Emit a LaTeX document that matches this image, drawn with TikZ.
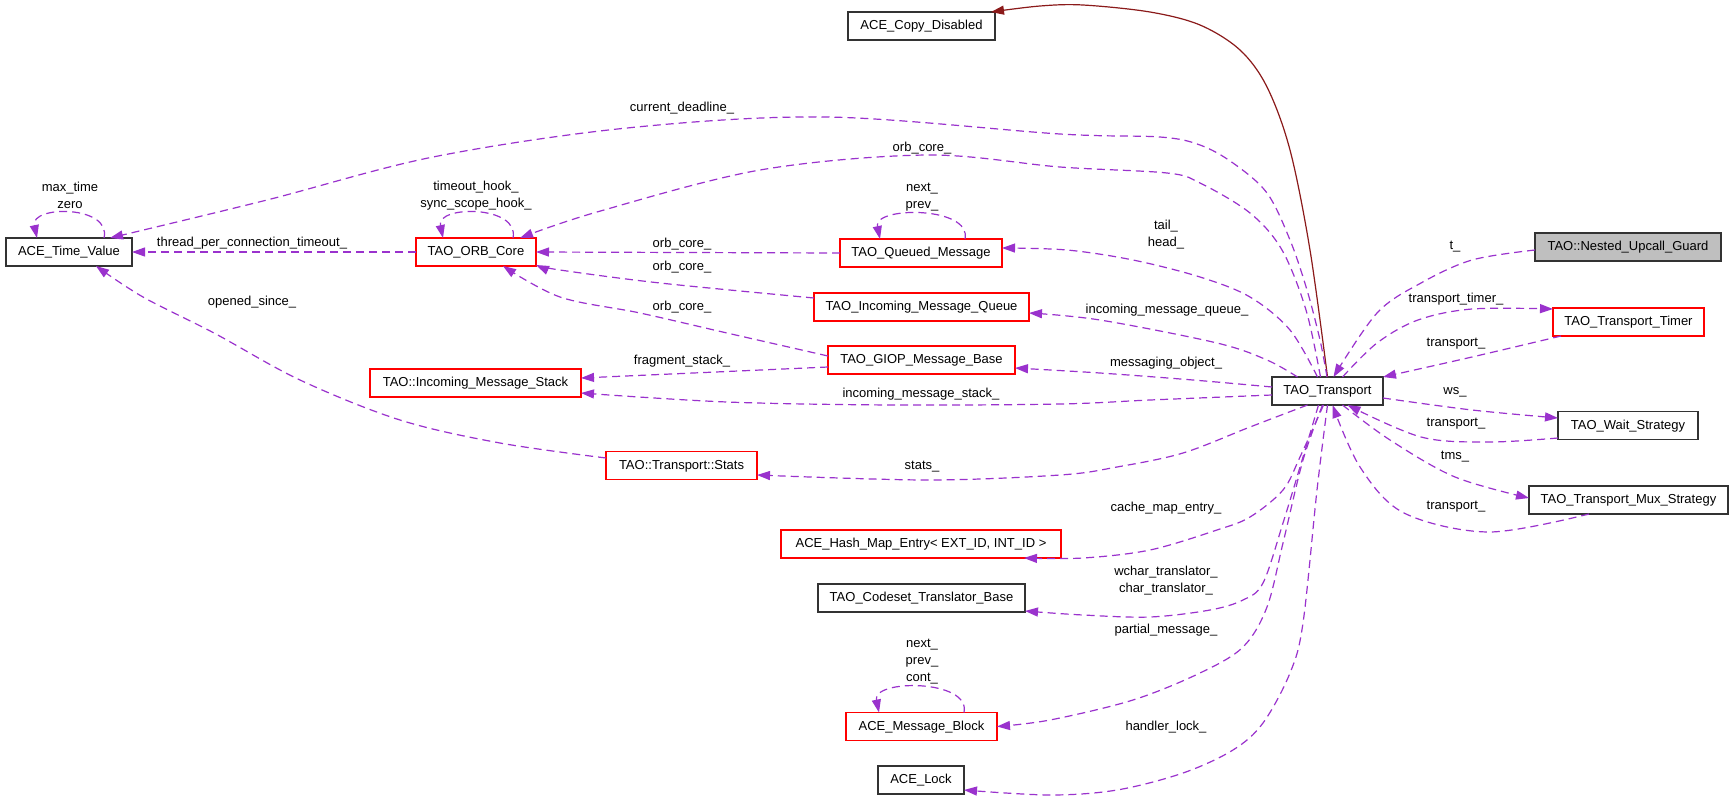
\documentclass[tikz,border=0pt]{standalone}
\usepackage{fontspec}
\setmainfont{Liberation Sans}
\usetikzlibrary{arrows.meta}
\definecolor{edgec}{HTML}{9A32CD}
\definecolor{inhc}{HTML}{8B1A1A}
\definecolor{nodered}{HTML}{FF0000}
\definecolor{nodeblk}{HTML}{333333}
\definecolor{focusfill}{HTML}{BFBFBF}
\begin{document}
\begin{tikzpicture}[x=1pt,y=-1pt,
  every node/.style={inner sep=0pt, outer sep=0pt},
  nbox/.style={draw=nodeblk, line width=1.3pt, minimum height=28pt, font=\fontsize{13}{15}\selectfont, text height=9.5pt, text depth=2.5pt},
  rbox/.style={nbox, draw=nodered},
  gbox/.style={nbox, fill=focusfill},
  lbl/.style={font=\fontsize{13}{17}\selectfont, text height=9.5pt, text depth=2.5pt},
  lblm/.style={font=\fontsize{13}{17}\selectfont, align=center},
  uses/.style={draw=edgec, line width=1.2pt, dash pattern=on 8pt off 5pt, -{Triangle[length=13pt,width=9pt]}},
  inherit/.style={draw=inhc, line width=1.2pt, -{Triangle[length=13pt,width=9pt]}},
]
\path[fill=white] (0,0) rectangle (1733,801);
\useasboundingbox (0,0) rectangle (1733,801);

% nodes
\node[nbox, minimum width=147pt] (CD) at (921.5,26) {ACE\_Copy\_Disabled};
\node[nbox, minimum width=126pt] (ATV) at (69,252) {ACE\_Time\_Value};
\node[rbox, minimum width=120pt] (ORB) at (476,252) {TAO\_ORB\_Core};
\node[rbox, minimum width=162pt] (QM) at (921,253) {TAO\_Queued\_Message};
\node[rbox, minimum width=215pt] (IMQ) at (921.5,307) {TAO\_Incoming\_Message\_Queue};
\node[rbox, minimum width=187pt] (GIOP) at (921.5,360) {TAO\_GIOP\_Message\_Base};
\node[rbox, minimum width=211pt] (IMS) at (475.5,383) {TAO::Incoming\_Message\_Stack};
\node[rbox, minimum width=151pt] (STATS) at (681.5,465.5) {TAO::Transport::Stats};
\node[rbox, minimum width=280pt] (HME) at (921,544) {ACE\_Hash\_Map\_Entry< EXT\_ID, INT\_ID >};
\node[nbox, minimum width=207pt] (CTB) at (921.5,598) {TAO\_Codeset\_Translator\_Base};
\node[rbox, minimum width=151pt] (MB) at (921.5,726.5) {ACE\_Message\_Block};
\node[nbox, minimum width=86pt] (LOCK) at (921,780) {ACE\_Lock};
\node[nbox, minimum width=111pt] (TR) at (1327.5,391) {TAO\_Transport};
\node[gbox, minimum width=186pt] (NUG) at (1628,247) {TAO::Nested\_Upcall\_Guard};
\node[rbox, minimum width=151pt] (TT) at (1628.5,322) {TAO\_Transport\_Timer};
\node[nbox, minimum width=140pt] (WS) at (1628,425.5) {TAO\_Wait\_Strategy};
\node[nbox, minimum width=199pt] (MUX) at (1628.5,500) {TAO\_Transport\_Mux\_Strategy};

% inheritance
\draw[inherit] plot[smooth, tension=0.55] coordinates {(TR.north) (1310,250) (1290,150) (1267,87) (1240,50) (1200,25) (1150,12) (1083,5) (1040,6) ([xshift=-4pt]CD.north east)};

% usage edges from TAO_Transport
\draw[uses] plot[smooth, tension=0.55] coordinates {([xshift=-0.5pt]TR.north) (1320,340) (1307,290) (1290,240) (1267,193) (1233,163) (1200,145) (1160,137) (1060,134) (827,117) (627,128) (433,157) (267,200) ([xshift=-22pt]ATV.north east)};
\draw[uses] plot[smooth, tension=0.55] coordinates {([xshift=-7pt]TR.north) (1306,310) (1282,250) (1250,213) (1200,183) (1167,173) (1060,167) (927,155) (760,170) (597,212) ([xshift=-16pt]ORB.north east)};
\draw[uses] plot[smooth, tension=0.55] coordinates {([xshift=-10pt]TR.north) (1290,330) (1250,297) (1200,277) (1133,260) (1067,250) ([yshift=5pt]QM.east)};
\draw[uses] plot[smooth, tension=0.55] coordinates {([xshift=-30pt]TR.north) (1267,360) (1217,343) (1100,320) ([yshift=-6pt]IMQ.east)};
\draw[uses] plot[smooth, tension=0.55] coordinates {([yshift=4pt]TR.west) (1193,380) (1100,373) ([yshift=-8pt]GIOP.east)};
\draw[uses] plot[smooth, tension=0.55] coordinates {([yshift=-4pt]TR.west) (1150,400) (1060,404) (893,405) (727,402) ([yshift=-10pt]IMS.east)};
\draw[uses] plot[smooth, tension=0.55] coordinates {([xshift=-20pt]TR.south) (1250,427) (1183,453) (1117,467) (1060,475) (927,480) ([yshift=-9.5pt]STATS.east)};
\draw[uses] plot[smooth, tension=0.55] coordinates {([xshift=-4pt]TR.south) (1300,457) (1283,490) (1250,517) (1217,530) (1150,550) (1083,558) ([xshift=-37pt]HME.south east)};
\draw[uses] plot[smooth, tension=0.55] coordinates {([xshift=-9pt]TR.south) (1303,457) (1283,523) (1263,583) (1243,600) (1210,610) (1150,617) (1083,615) ([yshift=-13pt]CTB.east)};
\draw[uses] plot[smooth, tension=0.55] coordinates {([xshift=-5pt]TR.south) (1303,460) (1283,543) (1267,607) (1243,647) (1200,673) (1133,700) (1050,720) (MB.east)};
\draw[uses] plot[smooth, tension=0.55] coordinates {(TR.south) (1317,490) (1303,623) (1290,673) (1263,723) (1233,750) (1183,773) (1117,790) (1050,795) ([yshift=-10pt]LOCK.east)};
\draw[uses] plot[smooth, tension=0.55] coordinates {([xshift=15pt]TR.north) (1377,343) (1418,320) (1472,309) ([yshift=13pt]TT.west)};
\draw[uses] plot[smooth, tension=0.55] coordinates {([yshift=-7pt]TR.east) (1472,410) ([yshift=7.5pt]WS.west)};
\draw[uses] plot[smooth, tension=0.55] coordinates {([xshift=15pt]TR.south) (1390,440) (1455,477) ([yshift=2pt]MUX.west)};

% usage edges into TAO_Transport
\draw[uses] plot[smooth, tension=0.55] coordinates {([yshift=-3pt]NUG.west) (1472,260) (1421,283) (1377,313) ([xshift=6pt]TR.north)};
\draw[uses] plot[smooth, tension=0.55] coordinates {([xshift=8pt]TT.south west) (1472,357) (TR.north east)};
\draw[uses] plot[smooth, tension=0.55] coordinates {([yshift=-12.5pt]WS.west) (1489,442) (1421,437) ([xshift=20pt]TR.south)};
\draw[uses] plot[smooth, tension=0.55] coordinates {([xshift=60pt]MUX.south west) (1489,532) (1404,513) (1360,467) ([xshift=5pt]TR.south)};

% other usage edges
\draw[uses] (ORB.west) -- (ATV.east);
\draw[uses] (QM.west) -- (ORB.east);
\draw[uses] plot[smooth, tension=0.55] coordinates {([yshift=9pt]IMQ.west) (660,283) (560,270) ([yshift=-13pt]ORB.east)};
\draw[uses] plot[smooth, tension=0.55] coordinates {([yshift=4pt]GIOP.west) (727,333) (640,313) (560,297) ([xshift=27pt]ORB.south)};
\draw[uses] ([yshift=-7pt]GIOP.west) -- ([yshift=5pt]IMS.east);
\draw[uses] plot[smooth, tension=0.55] coordinates {([yshift=7.5pt]STATS.west) (500,443) (400,420) (300,380) (214,333) (143,297) ([xshift=27pt]ATV.south)};

% self loops
\draw[uses] ([xshift=35pt]ATV.north) .. controls (112,205) and (30,205) .. ([xshift=-32pt]ATV.north);
\draw[uses] ([xshift=37pt]ORB.north) .. controls (520,205) and (436,205) .. ([xshift=-33pt]ORB.north);
\draw[uses] ([xshift=44pt]QM.north) .. controls (972,206) and (873,206) .. ([xshift=-41pt]QM.north);
\draw[uses] ([xshift=42.5pt]MB.north) .. controls (971,679) and (872,679) .. ([xshift=-42.5pt]MB.north);

% labels
\node[lbl] (Lcd) at (682,108) {current\_deadline\_};
\node[lbl] (Lorb1) at (922,148) {orb\_core\_};
\node[lblm] (Lmax) at (70,195.5) {max\_time\\zero};
\node[lblm] (Lhook) at (476,195.5) {timeout\_hook\_\\sync\_scope\_hook\_};
\node[lblm] (Lqm) at (922,197) {next\_\\prev\_};
\node[lbl] (Ltpc) at (252,243) {thread\_per\_connection\_timeout\_};
\node[lbl] (Lorb2) at (682,244) {orb\_core\_};
\node[lbl] (Lorb3) at (682,267) {orb\_core\_};
\node[lbl] (Lorb4) at (682,307) {orb\_core\_};
\node[lbl] (Lfrag) at (682,361) {fragment\_stack\_};
\node[lblm] (Lth) at (1166,234.5) {tail\_\\head\_};
\node[lbl] (Limq) at (1167,310) {incoming\_message\_queue\_};
\node[lbl] (Lmo) at (1166,363) {messaging\_object\_};
\node[lbl] (Lims) at (921,394) {incoming\_message\_stack\_};
\node[lbl] (Los) at (252,302) {opened\_since\_};
\node[lbl] (Lst) at (922,466) {stats\_};
\node[lbl] (Lcme) at (1166,508) {cache\_map\_entry\_};
\node[lblm] (Lct) at (1166,581) {wchar\_translator\_\\char\_translator\_};
\node[lbl] (Lpm) at (1166,630) {partial\_message\_};
\node[lblm] (Lmb) at (922,661.5) {next\_\\prev\_\\cont\_};
\node[lbl] (Lhl) at (1166,727) {handler\_lock\_};
\node[lbl] (Lt) at (1455,246) {t\_};
\node[lbl] (Ltt) at (1456,299) {transport\_timer\_};
\node[lbl] (Ltr1) at (1456,343) {transport\_};
\node[lbl] (Lws) at (1455,391) {ws\_};
\node[lbl] (Ltr2) at (1456,423) {transport\_};
\node[lbl] (Ltms) at (1455,456) {tms\_};
\node[lbl] (Ltr3) at (1456,506) {transport\_};
\end{tikzpicture}
\end{document}
